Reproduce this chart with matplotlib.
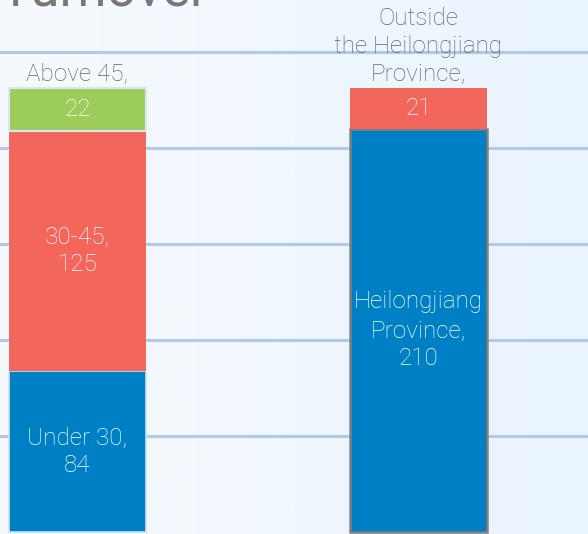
import matplotlib.pyplot as plt
import numpy as np

# data
grupos = ["Idade", "Origem"]
seg_baixo = [84, 210]
seg_meio = [125, 21]
seg_topo = [22, 0]
rot_baixo = ["Under 30,\n84", "Heilongjiang\nProvince,\n210"]
rot_meio = ["30-45,\n125", "21"]
rot_topo = ["22", ""]
rot_cima = ["Above 45,", "Outside\nthe Heilongjiang\nProvince,"]

azul = "#0080c4"
vermelho = "#f2665c"
verde = "#9ccc5a"

plt.rcParams['font.family'] = ['Roboto', 'DejaVu Sans']

fig = plt.figure(figsize=(5.88, 5.34), dpi=100)
ax = fig.add_axes([0, 0, 1, 1])

# fundo em degradê claro
grad = np.linspace(0, 1, 256).reshape(1, -1)
ax.imshow(grad, extent=[-0.227, 1.497, -1, 277], aspect='auto',
          cmap=plt.matplotlib.colors.LinearSegmentedColormap.from_list('bg', ['#f6fafd', '#eaf4fd']),
          zorder=0)

for y in [50, 100, 150, 200, 250]:
    ax.axhline(y, color='#b0cbea', lw=2.2, zorder=1)

x = np.arange(len(grupos))
larg = 0.40
ax.bar(x[0], seg_baixo[0], larg, color=azul, edgecolor='#cfe2f3', lw=1.2, zorder=2)
ax.bar(x[0], seg_meio[0], larg, bottom=seg_baixo[0], color=vermelho, edgecolor=vermelho, lw=0, zorder=2)
ax.bar(x[0], seg_topo[0], larg, bottom=seg_baixo[0] + seg_meio[0], color=verde, edgecolor='#d6e8f6', lw=1.5, zorder=2)

ax.bar(x[1], seg_baixo[1], larg, color=azul, edgecolor='#7f7f7f', lw=1.8, zorder=2)
ax.bar(x[1], seg_meio[1], larg, bottom=seg_baixo[1], color=vermelho, edgecolor=vermelho, lw=0, zorder=2)

fs = 17.5
for i in range(len(grupos)):
    b = seg_baixo[i]
    m = seg_meio[i]
    t = seg_topo[i]
    ax.text(x[i], b / 2, rot_baixo[i], color='white', ha='center', va='center',
            fontsize=fs, fontweight='light', linespacing=1.3, zorder=3)
    ax.text(x[i], b + m / 2, rot_meio[i], color='white', ha='center', va='center',
            fontsize=fs, fontweight='light', linespacing=1.3, zorder=3)
    if t > 0:
        ax.text(x[i], b + m + t / 2, rot_topo[i], color='white', ha='center', va='center',
                fontsize=fs, fontweight='light', zorder=3)
    ax.text(x[i], b + m + t + 1.5, rot_cima[i], color='#666666', ha='center', va='bottom',
            fontsize=fs, fontweight='light', linespacing=1.25, zorder=3)

# título cortado no topo
fig.text(0.0, 1 - 6 / 534, "Turnover", color='#777777', fontsize=38, ha='left', va='baseline')

ax.set_xlim(-0.227, 1.497)
ax.set_ylim(-1, 277)
ax.axis('off')

plt.savefig('out.png', dpi=100)
